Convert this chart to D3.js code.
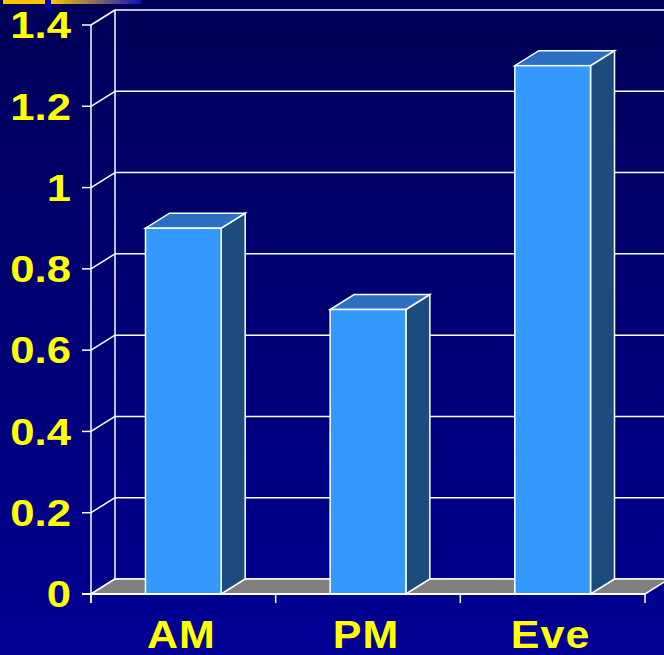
<!DOCTYPE html>
<html>
<head>
<meta charset="utf-8">
<script src="https://cdn.jsdelivr.net/npm/d3@7"></script>
<style>
  body { margin: 0; background: #000080; }
  svg { display: block; }
</style>
</head>
<body>
<svg id="chart" width="664" height="655"></svg>
<script>
// chart data
const categories = ["AM", "PM", "Eve"];
const values = [0.9, 0.7, 1.3];
const yTicks = [0, 0.2, 0.4, 0.6, 0.8, 1, 1.2, 1.4];
const yTickLabels = ["0", "0.2", "0.4", "0.6", "0.8", "1", "1.2", "1.4"];

const svg = d3.select("#chart"),
  width = +svg.attr("width"),
  height = +svg.attr("height");

// 3d depth offset
const dx = 24, dy = -15;

// background gradient
const defs = svg.append("defs");
const bg = defs.append("linearGradient").attr("id", "bg")
  .attr("x1", 0).attr("y1", 0).attr("x2", 0).attr("y2", 1);
bg.append("stop").attr("offset", "0%").attr("stop-color", "#000058");
bg.append("stop").attr("offset", "100%").attr("stop-color", "#000094");
const deco = defs.append("linearGradient").attr("id", "deco");
deco.append("stop").attr("offset", "0%").attr("stop-color", "#ffc400");
deco.append("stop").attr("offset", "100%").attr("stop-color", "#1010c0");

svg.append("rect").attr("width", width).attr("height", height).attr("fill", "url(#bg)");

// little slide decoration top left
svg.append("rect").attr("x", 3).attr("y", 0).attr("width", 42).attr("height", 4).attr("fill", "#ffc400");
svg.append("rect").attr("x", 45).attr("y", 0).attr("width", 6).attr("height", 11).attr("fill", "#0000a8");
svg.append("rect").attr("x", 51).attr("y", 0).attr("width", 90).attr("height", 4).attr("fill", "url(#deco)");

// scales
const x = d3.scaleBand().domain(categories).range([91, 645]).padding(0);
const y = d3.scaleLinear().domain([0, 1.4]).range([594, 25]);
const barW = x.bandwidth() * 0.41;

const g = svg.append("g");

// back wall gridlines
g.selectAll(".grid")
  .data(yTicks)
  .enter()
  .append("line")
  .attr("class", "grid")
  .attr("x1", 91 + dx)
  .attr("x2", 645 + dx + 30)
  .attr("y1", (d) => y(d) + dy)
  .attr("y2", (d) => y(d) + dy)
  .attr("stroke", "#fff")
  .attr("stroke-width", 1.5);

// left wall diagonals
g.selectAll(".diag")
  .data(yTicks)
  .enter()
  .append("line")
  .attr("x1", 91)
  .attr("y1", (d) => y(d))
  .attr("x2", 91 + dx)
  .attr("y2", (d) => y(d) + dy)
  .attr("stroke", "#fff")
  .attr("stroke-width", 1.5);

// back wall vertical edge
g.append("line")
  .attr("x1", 91 + dx).attr("x2", 91 + dx)
  .attr("y1", y(1.4) + dy).attr("y2", y(0) + dy)
  .attr("stroke", "#fff").attr("stroke-width", 1.5);

// floor
const x0 = 91, x1 = 645, y0 = y(0);
g.append("polygon")
  .attr("points", [[x0, y0], [x1, y0], [x1 + dx, y0 + dy], [x0 + dx, y0 + dy]].map((p) => p.join(",")).join(" "))
  .attr("fill", "#808080")
  .attr("stroke", "#fff")
  .attr("stroke-width", 1.5);

// bars
const bars = g.selectAll(".bar")
  .data(categories.map((c, i) => ({ c: c, v: values[i] })))
  .enter()
  .append("g")
  .attr("class", "bar");

function bx(d) { return x(d.c) + (x.bandwidth() - barW) / 2; }

// side face
bars.append("polygon")
  .attr("points", (d) => {
    const l = bx(d) + barW, t = y(d.v);
    return [[l, y0], [l + dx, y0 + dy], [l + dx, t + dy], [l, t]].map((p) => p.join(",")).join(" ");
  })
  .attr("fill", "#1c4c7e")
  .attr("stroke", "#fff")
  .attr("stroke-width", 1.5);

// top face
bars.append("polygon")
  .attr("points", (d) => {
    const l = bx(d), t = y(d.v);
    return [[l, t], [l + barW, t], [l + barW + dx, t + dy], [l + dx, t + dy]].map((p) => p.join(",")).join(" ");
  })
  .attr("fill", "#2c70c4")
  .attr("stroke", "#fff")
  .attr("stroke-width", 1.5);

// front face
bars.append("rect")
  .attr("x", bx)
  .attr("y", (d) => y(d.v))
  .attr("width", barW)
  .attr("height", (d) => y0 - y(d.v))
  .attr("fill", "#3399ff")
  .attr("stroke", "#fff")
  .attr("stroke-width", 1.5);

// front axes
g.append("line")
  .attr("x1", 91).attr("x2", 91).attr("y1", y(1.4)).attr("y2", y0 + 9)
  .attr("stroke", "#fff").attr("stroke-width", 1.5);
g.append("line")
  .attr("x1", 82).attr("x2", 645).attr("y1", y0).attr("y2", y0)
  .attr("stroke", "#fff").attr("stroke-width", 2);

// y ticks
g.selectAll(".ytick")
  .data(yTicks)
  .enter()
  .append("line")
  .attr("x1", 82).attr("x2", 91)
  .attr("y1", (d) => y(d)).attr("y2", (d) => y(d))
  .attr("stroke", "#fff").attr("stroke-width", 1.5);

// x ticks at band edges
const xEdges = categories.map((c) => x(c)).concat([x1]);
g.selectAll(".xtick")
  .data(xEdges)
  .enter()
  .append("line")
  .attr("x1", (d) => d).attr("x2", (d) => d)
  .attr("y1", y0).attr("y2", y0 + 9)
  .attr("stroke", "#fff").attr("stroke-width", 1.5);

// labels (slightly stretched horizontally like the original slide)
g.selectAll(".ylab")
  .data(yTicks)
  .enter()
  .append("text")
  .attr("transform", (d) => "translate(71," + y(d) + ") scale(1.18,1)")
  .attr("dy", "0.36em")
  .attr("text-anchor", "end")
  .attr("fill", "#ffff00")
  .attr("font-family", "Liberation Sans, Arial, sans-serif")
  .attr("font-weight", "bold")
  .attr("font-size", "37px")
  .text((d, i) => yTickLabels[i]);

g.selectAll(".xlab")
  .data(categories)
  .enter()
  .append("text")
  .attr("transform", (d) => "translate(" + (x(d) + x.bandwidth() / 2 - 2) + ",648) scale(1.1,1)")
  .attr("text-anchor", "middle")
  .attr("fill", "#ffff00")
  .attr("font-family", "Liberation Sans, Arial, sans-serif")
  .attr("font-weight", "bold")
  .attr("font-size", "39px")
  .attr("letter-spacing", "1px")
  .text((d) => d);
</script>
</body>
</html>
